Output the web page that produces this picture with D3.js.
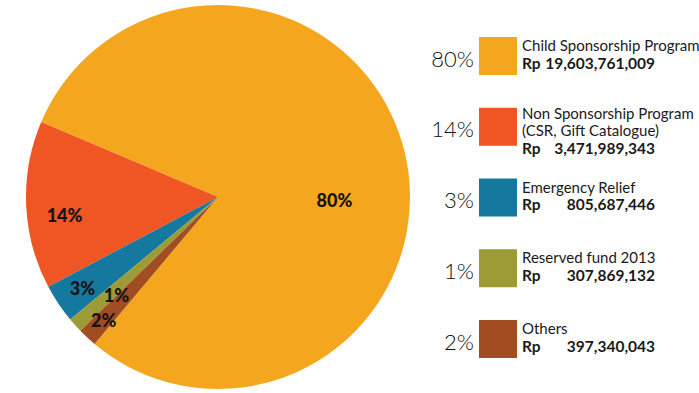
<!DOCTYPE html>
<html>
<head>
<meta charset="utf-8">
<script src="https://cdn.jsdelivr.net/npm/d3@7"></script>
<style>
  html, body { margin: 0; padding: 0; background: #ffffff; }
  svg { display: block; }
</style>
</head>
<body>
<svg id="chart" width="699" height="393"></svg>
<script>
// Fund allocation (Rupiah) by programme
const categories = [
  "Child Sponsorship Program",
  "Non Sponsorship Program",
  "Emergency Relief",
  "Reserved fund 2013",
  "Others"
];
const subLabels = [
  [],
  ["(CSR, Gift Catalogue)"],
  [],
  [],
  []
];
const amounts = [19603761009, 3471989343, 805687446, 307869132, 397340043];
const percentLabels = ["80%", "14%", "3%", "1%", "2%"];
const amountLabels = ["19,603,761,009", "3,471,989,343", "805,687,446", "307,869,132", "397,340,043"];
const colors = ["#F4A71E", "#EF5623", "#15789E", "#9D9B36", "#A24C22"];

const svg = d3.select("#chart");
const W = 699, H = 393;

// ---- Pie ----
const cx = 218, cy = 197, R = 192;
const deg = Math.PI / 180;
const startA = 220 * deg;

const pie = d3.pie()
  .sort(null)
  .value(d => d)
  .startAngle(startA)
  .endAngle(startA - 2 * Math.PI);   // slices run counter-clockwise

const arcs = pie(amounts);
const arc = d3.arc().innerRadius(0).outerRadius(R);

const g = svg.append("g").attr("transform", `translate(${cx},${cy})`);

g.selectAll("path.slice")
  .data(arcs)
  .join("path")
  .attr("class", "slice")
  .attr("d", arc)
  .attr("fill", (d, i) => colors[i]);

// In-slice labels: radius (fraction of R) and angular nudge in degrees
const labelPlace = [
  { r: 0.607, shift: 15 },
  { r: 0.805, shift: -4.4 },
  { r: 0.85, shift: 0 },
  { r: 0.735, shift: -2 },
  { r: 0.875, shift: 0 }
];

g.selectAll("text.pct")
  .data(arcs)
  .join("text")
  .attr("class", "pct")
  .each(function (d, i) {
    const p = labelPlace[i];
    const mid = (d.startAngle + d.endAngle) / 2 + p.shift * deg;
    const rr = p.r * R;
    d3.select(this)
      .attr("x", rr * Math.sin(mid))
      .attr("y", -rr * Math.cos(mid));
  })
  .attr("text-anchor", "middle")
  .attr("dominant-baseline", "central")
  .attr("font-family", "Lato, 'DejaVu Sans', sans-serif")
  .attr("font-weight", 900)
  .attr("font-size", 18)
  .attr("fill", "#141414")
  .text((d, i) => percentLabels[i]);

// ---- Legend ----
const legendY = d3.scalePoint()
  .domain(d3.range(categories.length))
  .range([37, 320]);

const swX = 479, sw = 38;
const textX = 522, numRight = 655, lineH = 17.5;

const items = svg.append("g")
  .selectAll("g.item")
  .data(categories)
  .join("g")
  .attr("class", "item")
  .attr("transform", (d, i) => `translate(0,${legendY(i)})`);

items.append("rect")
  .attr("x", swX)
  .attr("y", 0)
  .attr("width", sw)
  .attr("height", sw)
  .attr("fill", (d, i) => colors[i]);

items.append("text")
  .attr("x", swX - 5)
  .attr("y", sw / 2 + 2)
  .attr("text-anchor", "end")
  .attr("dominant-baseline", "central")
  .attr("font-family", "Lato, 'DejaVu Sans', sans-serif")
  .attr("font-weight", 300)
  .attr("font-size", 22)
  .attr("fill", "#111")
  .text((d, i) => percentLabels[i]);

items.each(function (name, i) {
  const item = d3.select(this);
  const lines = [name].concat(subLabels[i]);
  const n = lines.length + 1;
  const first = 14 - (n - 2) * 3;
  lines.forEach((t, k) => {
    item.append("text")
      .attr("x", textX)
      .attr("y", first + k * lineH)
      .attr("font-family", "Lato, 'DejaVu Sans', sans-serif")
      .attr("font-size", 15)
      .attr("fill", "#1a1a1a")
      .text(t);
  });
  const yRp = first + lines.length * lineH;
  item.append("text")
    .attr("x", textX)
    .attr("y", yRp)
    .attr("font-family", "Lato, 'DejaVu Sans', sans-serif")
    .attr("font-weight", 700)
    .attr("font-size", 15.5)
    .attr("fill", "#1a1a1a")
    .text("Rp");
  item.append("text")
    .attr("x", numRight)
    .attr("y", yRp)
    .attr("text-anchor", "end")
    .attr("font-family", "Lato, 'DejaVu Sans', sans-serif")
    .attr("font-weight", 700)
    .attr("font-size", 15.5)
    .attr("fill", "#1a1a1a")
    .text(amountLabels[i]);
});
</script>
</body>
</html>
